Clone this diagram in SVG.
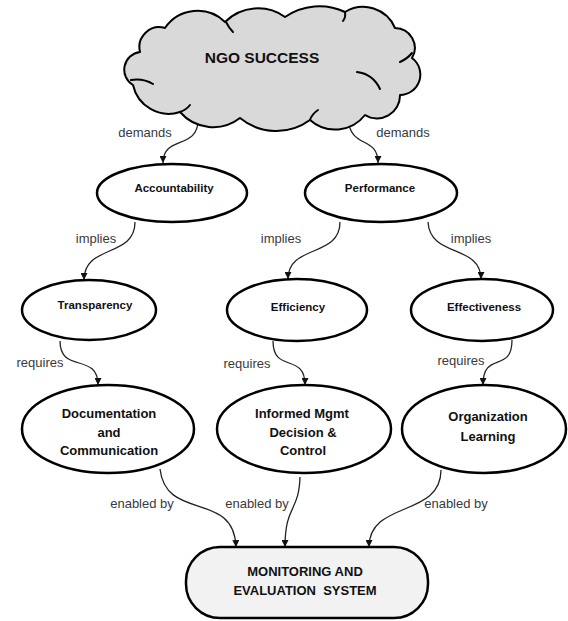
<svg xmlns="http://www.w3.org/2000/svg" width="568" height="621" viewBox="0 0 568 621">
<style>
  .node { fill: #ffffff; stroke: #000; stroke-width: 2.5; }
  .cloud { fill: #d9d9d9; stroke: #000; stroke-width: 2; stroke-linejoin: round; }
  .inner { fill: none; stroke: #000; stroke-width: 2; stroke-linecap: round; }
  .box { fill: #f2f2f2; stroke: #000; stroke-width: 2.5; }
  .conn { fill: none; stroke: #222; stroke-width: 1.3; marker-end: url(#arrow); }
  .t { font-family: "Liberation Sans", Arial, sans-serif; font-weight: bold; fill: #111; text-anchor: middle; }
  .lbl { font-family: "Liberation Sans", Arial, sans-serif; font-size: 13px; fill: #3a3a3a; text-anchor: middle; }
</style>
<defs>
  <marker id="arrow" viewBox="0 0 10 10" refX="10" refY="5" markerWidth="8" markerHeight="7" markerUnits="userSpaceOnUse" orient="auto">
    <path d="M0,0 L10,5 L0,10 z" fill="#111"/>
  </marker>
</defs>

<g id="connectors">
  <path class="conn" d="M198,120 C198,150 163,135 163,163"/>
  <path class="conn" d="M348,118 C350,150 378,135 378,163"/>
  <path class="conn" d="M135,222 C135,258 84,244 84,280"/>
  <path class="conn" d="M340,222 C340,258 288,244 288,279"/>
  <path class="conn" d="M428,222 C430,258 481,244 481,279"/>
  <path class="conn" d="M60,341 C60,374 98,352 98,385"/>
  <path class="conn" d="M273,341 C273,374 305,352 305,385"/>
  <path class="conn" d="M512,340 C512,374 483,350 483,385"/>
  <path class="conn" d="M160,469 C166,522 234,490 236,547"/>
  <path class="conn" d="M300,477 C299,512 285,505 285,547"/>
  <path class="conn" d="M441,470 C441,518 369,500 369,547"/>
  <text class="lbl" x="145" y="137">demands</text>
  <text class="lbl" x="403" y="137">demands</text>
  <text class="lbl" x="96" y="243">implies</text>
  <text class="lbl" x="281" y="243">implies</text>
  <text class="lbl" x="471" y="243">implies</text>
  <text class="lbl" x="40" y="367">requires</text>
  <text class="lbl" x="247" y="368">requires</text>
  <text class="lbl" x="461" y="365">requires</text>
  <text class="lbl" x="142" y="508">enabled by</text>
  <text class="lbl" x="257" y="508">enabled by</text>
  <text class="lbl" x="456" y="508">enabled by</text>
</g>

<g id="ngo-success">
  <path class="cloud" d="M133,85 A17.8,17.8 0 0 1 140,52 A20,20 0 0 1 165,28 A39.5,39.5 0 0 1 225,22 A46.7,46.7 0 0 1 285,17 A60,60 0 0 1 345,12 A34.7,34.7 0 0 1 395,28 A19.9,19.9 0 0 1 412,58 A20.5,20.5 0 0 1 400,95 A22.9,22.9 0 0 1 365,115 A37.8,37.8 0 0 1 310,120 A57,57 0 0 1 240,118 A43.9,43.9 0 0 1 180,112 A36.6,36.6 0 0 1 133,85 Z"/>
  <path class="inner" d="M131,80 Q143,78 153,84"/>
  <path class="inner" d="M226,22 Q229,28 233,32"/>
  <path class="inner" d="M345,12 Q346,17 343,21"/>
  <path class="inner" d="M400,62 Q407,59 412,53"/>
  <path class="inner" d="M357,72 Q373,74 380,89"/>
  <path class="inner" d="M180,112 Q186,110 190,105"/>
  <path class="inner" d="M310,120 Q312,114 318,110"/>
  <text class="t" x="262" y="63" font-size="15.5">NGO SUCCESS</text>
</g>

<g id="accountability">
  <ellipse class="node" cx="172" cy="193" rx="75" ry="29"/>
  <text class="t" x="174" y="192" font-size="11.5">Accountability</text>
</g>
<g id="performance">
  <ellipse class="node" cx="381" cy="193" rx="76" ry="29"/>
  <text class="t" x="380" y="192" font-size="11.5">Performance</text>
</g>
<g id="transparency">
  <ellipse class="node" cx="89" cy="310" rx="67" ry="30"/>
  <text class="t" x="95" y="309" font-size="11.5">Transparency</text>
</g>
<g id="efficiency">
  <ellipse class="node" cx="297" cy="310" rx="70" ry="31"/>
  <text class="t" x="298" y="311" font-size="11.5">Efficiency</text>
</g>
<g id="effectiveness">
  <ellipse class="node" cx="482" cy="310" rx="71" ry="31"/>
  <text class="t" x="484" y="311" font-size="11.5">Effectiveness</text>
</g>
<g id="documentation">
  <ellipse class="node" cx="108" cy="429" rx="86" ry="44"/>
  <text class="t" font-size="13" x="109" y="418">Documentation</text>
  <text class="t" font-size="13" x="109" y="437">and</text>
  <text class="t" font-size="13" x="109" y="455">Communication</text>
</g>
<g id="informed-mgmt">
  <ellipse class="node" cx="304" cy="429" rx="87" ry="44"/>
  <text class="t" font-size="13" x="302" y="418">Informed Mgmt</text>
  <text class="t" font-size="13" x="303" y="437">Decision &amp;</text>
  <text class="t" font-size="13" x="303" y="455">Control</text>
</g>
<g id="organization-learning">
  <ellipse class="node" cx="484" cy="429" rx="82" ry="44"/>
  <text class="t" font-size="13" x="488" y="421">Organization</text>
  <text class="t" font-size="13" x="488" y="441">Learning</text>
</g>
<g id="monitoring">
  <rect class="box" x="186" y="547" width="242" height="71" rx="34" ry="34"/>
  <text class="t" font-size="13" x="305" y="576">MONITORING AND</text>
  <text class="t" font-size="13" x="305" y="595" xml:space="preserve">EVALUATION  SYSTEM</text>
</g>
</svg>
